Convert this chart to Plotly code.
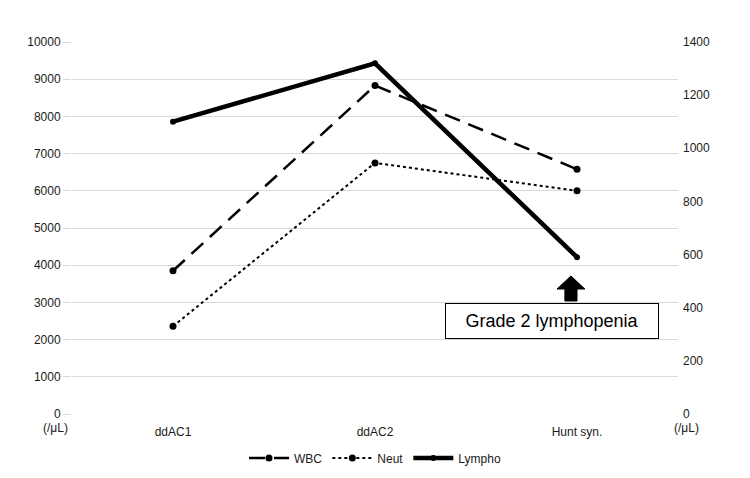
import plotly.graph_objects as go

categories = ["ddAC1", "ddAC2", "Hunt syn."]
wbc = [3850, 8830, 6580]
neut = [2360, 6750, 6000]
lympho = [1100, 1320, 590]
left_ticks = list(range(0, 10001, 1000))
left_labels = [str(v) for v in left_ticks]
right_ticks = list(range(0, 1401, 200))
right_labels = [str(v) for v in right_ticks]

FONT = "Liberation Sans, Arial, sans-serif"

fig = go.Figure()
fig.add_trace(go.Scatter(x=categories, y=wbc, name="WBC", mode="lines+markers",
                         line=dict(color="black", width=2.5, dash="16px,9px"),
                         marker=dict(size=7, color="black")))
fig.add_trace(go.Scatter(x=categories, y=neut, name="Neut", mode="lines+markers",
                         line=dict(color="black", width=2, dash="dot"),
                         marker=dict(size=7, color="black")))
fig.add_trace(go.Scatter(x=categories, y=lympho, name="Lympho", mode="lines+markers",
                         line=dict(color="black", width=4.5),
                         marker=dict(size=6, color="black"), yaxis="y2"))

fig.update_layout(
    width=750, height=478,
    margin=dict(l=72, r=72, t=42, b=64, autoexpand=False),
    paper_bgcolor="white", plot_bgcolor="white",
    font=dict(family=FONT, size=12, color="#1a1a1a"),
    xaxis=dict(showgrid=False, zeroline=False, showline=False, ticks="outside",
               ticklen=7, tickcolor="rgba(0,0,0,0)",
               tickfont=dict(size=12), range=[-0.5, 2.5]),
    yaxis=dict(range=[0, 10000], tickvals=left_ticks, ticktext=left_labels,
               showgrid=True, gridcolor="#d9d9d9", gridwidth=1, zeroline=False,
               showline=False, ticks="outside", ticklen=8, tickcolor="#d9d9d9",
               tickfont=dict(size=12)),
    yaxis2=dict(range=[0, 1400], tickvals=right_ticks, ticktext=right_labels,
                overlaying="y", side="right",
                showgrid=False, zeroline=False, showline=False, ticks="",
                tickfont=dict(size=12), ticklabelstandoff=4),
    legend=dict(orientation="h", x=0.5, xanchor="center", y=-0.118, yanchor="middle",
                font=dict(size=12), itemwidth=40),
    showlegend=True,
)

# (/μL) labels
fig.add_annotation(text="(/μL)", xref="paper", yref="paper", x=0, y=0,
                   xanchor="right", yanchor="top", xshift=-2, yshift=-5,
                   showarrow=False, font=dict(size=12))
fig.add_annotation(text="(/μL)", xref="paper", yref="paper", x=1, y=0,
                   xanchor="left", yanchor="top", xshift=-6, yshift=-5,
                   showarrow=False, font=dict(size=12))

# Grade 2 lymphopenia box
fig.add_annotation(text="Grade 2 lymphopenia", xref="x", yref="y", x=2.0, y=2490,
                   xanchor="center", yanchor="middle", xshift=-25, showarrow=False,
                   font=dict(size=18, color="black"), bordercolor="black",
                   borderwidth=1, bgcolor="white", borderpad=7, width=198)

# block arrow pointing up
fig.add_shape(type="path", xref="x", yref="y",
              path=("M 1.94,3360 L 1.94,3038 L 2.0,3038 L 2.0,3360 "
                    "L 2.039,3360 L 1.97,3710 L 1.901,3360 Z"),
              fillcolor="black", line=dict(color="black", width=1))

fig.write_html("out.html")
